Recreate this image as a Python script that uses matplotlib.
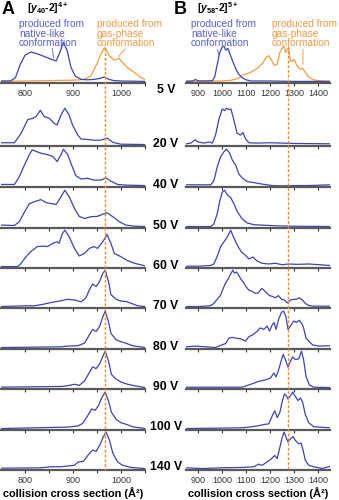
import matplotlib
matplotlib.use("Agg")
import matplotlib.pyplot as plt
from matplotlib.transforms import blended_transform_factory

plt.rcParams["font.family"] = ["Liberation Sans", "DejaVu Sans"]
plt.rcParams["mathtext.fontset"] = "custom"
plt.rcParams["mathtext.rm"] = "Liberation Sans"
plt.rcParams["mathtext.it"] = "Liberation Sans:italic:bold"
plt.rcParams["mathtext.bf"] = "Liberation Sans:bold"

# ---- data (normalised intensity) ----
volts = ["5 V", "20 V", "40 V", "50 V", "60 V", "70 V", "80 V", "90 V", "100 V", "140 V"]

# panel A, [y40-2]4+
a5_x = [750, 770, 780, 790, 800, 812, 825, 840, 855, 865, 872, 880, 888, 896, 905, 917, 930, 945, 958, 965, 975, 985, 1000, 1050]
a5_blue = [0.01, 0.01, 0.09, 0.42, 0.65, 0.73, 0.69, 0.62, 0.55, 0.51, 0.7, 0.97, 0.76, 0.34, 0.13, 0.05, 0.04, 0.05, 0.08, 0.11, 0.05, 0.02, 0.01, 0.0]
a5o_x = [750, 800, 850, 900, 915, 925, 937, 951, 958, 966, 976, 986, 996, 1003, 1014, 1028, 1042, 1050]
a5_orange = [0.0, 0.01, 0.02, 0.03, 0.04, 0.06, 0.13, 0.47, 0.68, 0.84, 0.63, 0.53, 0.57, 0.47, 0.34, 0.22, 0.09, 0.05]

a20_x = [750, 778, 792, 806, 816, 823, 832, 840, 851, 861, 867, 875, 883, 892, 899, 910, 917, 930, 944, 958, 971, 983, 1000, 1050]
a20_y = [0.05, 0.05, 0.31, 0.69, 0.72, 0.77, 0.94, 0.77, 0.72, 0.58, 0.54, 0.81, 1.0, 0.81, 0.54, 0.26, 0.15, 0.14, 0.12, 0.12, 0.18, 0.06, 0.01, 0.0]
a40_x = [750, 778, 788, 799, 809, 815, 823, 833, 847, 858, 867, 875, 880, 889, 897, 906, 917, 930, 944, 958, 969, 979, 993, 1014, 1050]
a40_y = [0.03, 0.03, 0.24, 0.57, 0.85, 0.98, 0.94, 0.89, 0.85, 0.8, 0.66, 0.85, 1.0, 0.85, 0.57, 0.27, 0.18, 0.2, 0.15, 0.15, 0.21, 0.12, 0.03, 0.01, 0.0]
a50_x = [750, 778, 788, 799, 809, 819, 833, 844, 854, 865, 875, 883, 892, 903, 913, 924, 937, 951, 962, 971, 983, 997, 1010, 1028, 1050]
a50_y = [0.04, 0.03, 0.13, 0.4, 0.63, 0.68, 0.74, 0.66, 0.63, 0.61, 0.82, 1.0, 0.82, 0.5, 0.28, 0.22, 0.27, 0.28, 0.34, 0.38, 0.27, 0.13, 0.04, 0.01, 0.0]
a60_x = [750, 785, 792, 802, 812, 826, 837, 847, 858, 867, 871, 878, 883, 892, 903, 913, 924, 934, 944, 951, 962, 971, 979, 986, 1000, 1014, 1028, 1050]
a60_y = [0.0, 0.0, 0.09, 0.27, 0.41, 0.55, 0.56, 0.55, 0.64, 0.68, 0.64, 0.91, 1.0, 0.82, 0.5, 0.29, 0.36, 0.5, 0.55, 0.5, 0.68, 0.88, 0.64, 0.36, 0.27, 0.16, 0.09, 0.02]
a70_x = [750, 802, 819, 837, 854, 871, 889, 903, 917, 927, 934, 941, 948, 955, 962, 967, 974, 979, 990, 1000, 1010, 1021, 1035, 1050]
a70_y = [0.0, 0.02, 0.02, 0.06, 0.11, 0.15, 0.2, 0.18, 0.13, 0.24, 0.46, 0.62, 0.55, 0.68, 0.91, 1.0, 0.69, 0.33, 0.2, 0.15, 0.14, 0.09, 0.02, 0.0]
a80_x = [750, 875, 889, 910, 924, 934, 941, 948, 955, 962, 967, 974, 979, 990, 1000, 1010, 1024, 1050]
a80_y = [0.0, 0.02, 0.04, 0.05, 0.12, 0.35, 0.5, 0.44, 0.57, 0.84, 1.0, 0.71, 0.39, 0.21, 0.16, 0.12, 0.05, 0.0]
a90_x = [750, 875, 889, 903, 913, 924, 934, 941, 948, 955, 962, 967, 974, 980, 990, 1000, 1014, 1028, 1050]
a90_y = [0.01, 0.03, 0.05, 0.09, 0.06, 0.18, 0.41, 0.57, 0.52, 0.64, 0.85, 1.0, 0.73, 0.36, 0.23, 0.15, 0.09, 0.05, 0.0]
a100_x = [750, 889, 910, 920, 930, 939, 946, 953, 960, 967, 974, 980, 990, 1000, 1010, 1024, 1050]
a100_y = [0.0, 0.04, 0.07, 0.14, 0.34, 0.54, 0.5, 0.63, 0.85, 1.0, 0.76, 0.45, 0.25, 0.16, 0.12, 0.05, 0.0]
a140_x = [750, 833, 854, 875, 889, 903, 911, 922, 932, 941, 948, 956, 963, 969, 976, 983, 993, 1003, 1021, 1050]
a140_y = [0.01, 0.02, 0.05, 0.05, 0.07, 0.09, 0.18, 0.2, 0.38, 0.51, 0.47, 0.65, 0.87, 1.0, 0.78, 0.42, 0.18, 0.09, 0.03, 0.0]

# panel B, [y58-2]5+
b5_x = [850, 880, 889, 900, 940, 960, 970, 980, 990, 1000, 1008, 1015, 1025, 1035, 1048, 1060, 1072, 1085, 1100, 1120, 1200, 1300, 1450]
b5_blue = [0.0, 0.01, 0.05, 0.01, 0.01, 0.02, 0.12, 0.42, 0.7, 0.85, 0.88, 0.78, 0.82, 0.65, 0.45, 0.28, 0.16, 0.09, 0.04, 0.01, 0.01, 0.0, 0.0]
b5o_x = [850, 950, 1000, 1040, 1070, 1090, 1110, 1130, 1150, 1170, 1185, 1195, 1205, 1218, 1230, 1240, 1250, 1258, 1265, 1272, 1278, 1285, 1292, 1300, 1312, 1325, 1335, 1345, 1360, 1380, 1400, 1450]
b5_orange = [0.01, 0.01, 0.01, 0.03, 0.08, 0.17, 0.2, 0.26, 0.34, 0.46, 0.6, 0.64, 0.54, 0.4, 0.42, 0.7, 0.82, 0.88, 0.72, 0.8, 0.83, 0.5, 0.5, 0.55, 0.4, 0.3, 0.33, 0.25, 0.12, 0.04, 0.02, 0.0]

b20_x = [850, 870, 888, 901, 925, 946, 960, 973, 987, 1001, 1011, 1019, 1029, 1037, 1045, 1054, 1063, 1077, 1087, 1098, 1112, 1140, 1200, 1300, 1450]
b20_y = [0.02, 0.04, 0.13, 0.07, 0.04, 0.07, 0.04, 0.26, 0.69, 0.98, 0.93, 1.0, 0.96, 0.98, 0.79, 0.55, 0.31, 0.26, 0.33, 0.16, 0.05, 0.04, 0.05, 0.03, 0.02]
b40_x = [850, 904, 953, 966, 980, 994, 1008, 1019, 1032, 1043, 1057, 1070, 1084, 1105, 1133, 1167, 1209, 1250, 1306, 1361, 1450]
b40_y = [0.02, 0.02, 0.02, 0.13, 0.51, 0.79, 0.93, 1.0, 0.89, 0.7, 0.56, 0.32, 0.21, 0.11, 0.08, 0.04, 0.0, -0.01, 0.0, 0.0, 0.02]
b50_x = [850, 953, 966, 980, 991, 1001, 1011, 1022, 1036, 1050, 1063, 1084, 1105, 1133, 1167, 1223, 1292, 1450]
b50_y = [0.0, 0.0, 0.07, 0.35, 0.71, 0.94, 1.0, 0.87, 0.8, 0.62, 0.42, 0.21, 0.1, 0.05, 0.04, 0.02, 0.01, 0.0]
b60_x = [850, 904, 953, 966, 980, 994, 1008, 1022, 1036, 1045, 1057, 1068, 1081, 1098, 1112, 1129, 1147, 1167, 1195, 1223, 1250, 1278, 1313, 1361, 1450]
b60_y = [0.01, 0.01, 0.03, 0.07, 0.28, 0.54, 0.68, 0.81, 1.0, 0.86, 0.68, 0.54, 0.4, 0.31, 0.21, 0.26, 0.15, 0.09, 0.07, 0.09, 0.05, 0.07, 0.06, 0.07, 0.03]
b70_x = [850, 900, 950, 965, 980, 993, 1005, 1015, 1025, 1035, 1045, 1052, 1060, 1068, 1078, 1090, 1100, 1112, 1125, 1140, 1152, 1165, 1175, 1185, 1198, 1210, 1222, 1235, 1248, 1260, 1272, 1285, 1298, 1310, 1322, 1335, 1348, 1362, 1380, 1450]
b70_y = [0.0, 0.0, 0.02, 0.08, 0.2, 0.3, 0.5, 0.65, 0.75, 0.88, 1.0, 0.92, 0.95, 0.88, 0.76, 0.66, 0.55, 0.45, 0.42, 0.36, 0.38, 0.5, 0.45, 0.38, 0.3, 0.28, 0.24, 0.3, 0.2, 0.18, 0.1, 0.18, 0.2, 0.2, 0.24, 0.18, 0.08, 0.03, 0.01, 0.01]
b80_x = [850, 890, 932, 973, 998, 1015, 1029, 1043, 1057, 1077, 1098, 1112, 1128, 1147, 1160, 1174, 1188, 1198, 1209, 1217, 1225, 1236, 1248, 1257, 1267, 1275, 1285, 1299, 1310, 1322, 1334, 1340, 1350, 1364, 1378, 1403, 1450]
b80_y = [0.02, 0.04, 0.02, 0.0, 0.07, 0.11, 0.26, 0.28, 0.26, 0.24, 0.18, 0.3, 0.35, 0.45, 0.54, 0.5, 0.59, 0.45, 0.62, 0.69, 0.5, 0.78, 0.97, 1.0, 0.83, 0.5, 0.59, 0.73, 0.69, 0.75, 0.64, 0.54, 0.26, 0.16, 0.07, 0.04, 0.05]
b90_x = [850, 1084, 1112, 1153, 1181, 1202, 1216, 1225, 1236, 1248, 1255, 1264, 1275, 1285, 1294, 1306, 1320, 1331, 1340, 1350, 1364, 1382, 1450]
b90_y = [0.01, 0.01, 0.07, 0.17, 0.21, 0.26, 0.4, 0.29, 0.49, 0.77, 0.91, 0.77, 0.56, 0.72, 0.84, 0.77, 0.79, 1.0, 0.77, 0.31, 0.07, 0.01, 0.0]
b100_x = [850, 1084, 1112, 1147, 1174, 1195, 1212, 1220, 1230, 1241, 1250, 1260, 1268, 1275, 1285, 1294, 1306, 1317, 1327, 1336, 1347, 1361, 1382, 1450]
b100_y = [0.0, 0.02, 0.04, 0.07, 0.11, 0.13, 0.39, 0.49, 0.3, 0.44, 0.72, 0.95, 0.9, 0.81, 0.9, 1.0, 0.88, 0.77, 0.84, 0.72, 0.39, 0.16, 0.05, 0.02]
b140_x = [850, 918, 1001, 1084, 1133, 1153, 1167, 1188, 1206, 1220, 1230, 1240, 1251, 1259, 1267, 1275, 1285, 1296, 1306, 1320, 1330, 1338, 1347, 1361, 1382, 1417, 1450]
b140_y = [0.02, 0.0, 0.02, 0.03, 0.05, 0.12, 0.09, 0.18, 0.27, 0.36, 0.27, 0.55, 0.86, 1.0, 0.86, 0.73, 0.82, 0.88, 0.77, 0.68, 0.7, 0.5, 0.23, 0.09, 0.05, 0.0, 0.06]

a_marker = 967   # CCS of the gas-phase peak, panel A
b_marker = 1277  # panel B

BLUE = "#3d44ae"
BLUE_TXT = "#5a60c6"
ORANGE = "#f39a45"
DASH = "#f28a2a"

W, H = 339, 500
fig = plt.figure(figsize=(W / 100, H / 100), dpi=100)

baselines = [83, 146, 187, 228, 268, 308, 349, 389, 430, 470]
label_y = [90, 144, 185, 226, 266, 306, 347, 387, 427, 467]
col_left = {"A": 1, "B": 186}
col_lim = {"A": (750, 1050), "B": (850, 1450)}
col_ticks = {"A": [800, 850, 900, 950, 1000, 1050], "B": [900, 1000, 1100, 1200, 1300, 1400]}

a_series = [(a20_x, a20_y), (a40_x, a40_y), (a50_x, a50_y), (a60_x, a60_y), (a70_x, a70_y),
            (a80_x, a80_y), (a90_x, a90_y), (a100_x, a100_y), (a140_x, a140_y)]
b_series = [(b20_x, b20_y), (b40_x, b40_y), (b50_x, b50_y), (b60_x, b60_y), (b70_x, b70_y),
            (b80_x, b80_y), (b90_x, b90_y), (b100_x, b100_y), (b140_x, b140_y)]


def fmt_label(v):
    return "%d" % v if v % 100 == 0 else ""


def make_axes(col, i):
    h = 43 if i == 0 else 40
    ax = fig.add_axes([col_left[col] / W, 1 - baselines[i] / H, 144 / W, h / H])
    ax.set_xlim(*col_lim[col])
    ax.set_ylim(-0.04, 1.03 if i == 0 else 1.06)
    for s in ("left", "right", "top"):
        ax.spines[s].set_visible(False)
    ax.spines["bottom"].set_color("#5a5a5a")
    ax.spines["bottom"].set_linewidth(1.6)
    ax.set_yticks([])
    ax.set_xticks(col_ticks[col])
    ax.tick_params(axis="x", direction="out", length=2, width=0.8, color="#333333",
                   labelsize=6.5, labelcolor="#333333", pad=2)
    if i in (0, len(baselines) - 1):
        ax.set_xticklabels([fmt_label(t) for t in col_ticks[col]])
    else:
        ax.set_xticklabels([])
    ax.patch.set_alpha(0)
    return ax


axes = {"A": [], "B": []}
for col, series in (("A", a_series), ("B", b_series)):
    for i in range(len(baselines)):
        ax = make_axes(col, i)
        axes[col].append(ax)
        if i > 0:
            x, y = series[i - 1]
            ax.plot(x, y, color=BLUE, lw=0.9)

# top panels: two traces each
axes["A"][0].plot(a5o_x, a5_orange, color=ORANGE, lw=0.9)
axes["A"][0].plot(a5_x, a5_blue, color=BLUE, lw=0.9)
axes["B"][0].plot(b5o_x, b5_orange, color=ORANGE, lw=0.9)
axes["B"][0].plot(b5_x, b5_blue, color=BLUE, lw=0.9)

# dashed marker lines running through all panels
for col, xm, ytop in (("A", a_marker, 48), ("B", b_marker, 46)):
    ax = axes[col][-1]
    tr = blended_transform_factory(ax.transData, fig.transFigure)
    ax.plot([xm, xm], [1 - ytop / H, 1 - baselines[-1] / H], transform=tr,
            color=DASH, lw=1.0, ls=(0, (2, 1.4)), clip_on=False, zorder=5)

# voltage labels between the columns
for v, ly in zip(volts, label_y):
    fig.text(166 / W, 1 - ly / H, v, ha="center", va="center", fontsize=8.8,
             fontweight="bold")

# x labels
for col in ("A", "B"):
    axes[col][-1].set_xlabel("collision cross section (Å²)", fontsize=7.9, fontweight="bold",
                             labelpad=2)

# panel letters and ion names
fig.text(2 / W, 1 - 9 / H, "A", fontsize=13, fontweight="bold", va="center")
fig.text(27 / W, 1 - 8 / H, r"[$\mathit{y}_{\mathbf{40}}$-2]$^{\mathbf{4+}}$", fontsize=7.5,
         fontweight="bold", va="center")
fig.text(174 / W, 1 - 9 / H, "B", fontsize=13, fontweight="bold", va="center")
fig.text(197 / W, 1 - 8 / H, r"[$\mathit{y}_{\mathbf{58}}$-2]$^{\mathbf{5+}}$", fontsize=7.5,
         fontweight="bold", va="center")

# annotations in the top panels
txt_native = "produced from\nnative-like\nconformation"
txt_gas = "produced from\ngas-phase\nconformation"
for x0, txt, c in ((19, txt_native, BLUE_TXT), (97, txt_gas, ORANGE),
                   (191, txt_native, BLUE_TXT), (272, txt_gas, ORANGE)):
    fig.text(x0 / W, 1 - 19 / H, txt, color=c, fontsize=7.3, va="top", ha="left", linespacing=0.95)

ptr = dict(arrowstyle="-", ls=(0, (1, 1)), lw=0.8)
axes["A"][0].annotate("", xy=(860, 0.52), xytext=(52 / W, 1 - 46 / H), textcoords="figure fraction",
                      arrowprops=dict(ptr, color=BLUE_TXT))
axes["A"][0].annotate("", xy=(990, 0.56), xytext=(127 / W, 1 - 47 / H), textcoords="figure fraction",
                      arrowprops=dict(ptr, color=ORANGE))
axes["B"][0].annotate("", xy=(988, 0.6), xytext=(217 / W, 1 - 47 / H), textcoords="figure fraction",
                      arrowprops=dict(ptr, color=BLUE_TXT))
axes["B"][0].annotate("", xy=(1337, 0.34), xytext=(303 / W, 1 - 47 / H), textcoords="figure fraction",
                      arrowprops=dict(ptr, color=ORANGE))

fig.savefig("out.png", dpi=100)
